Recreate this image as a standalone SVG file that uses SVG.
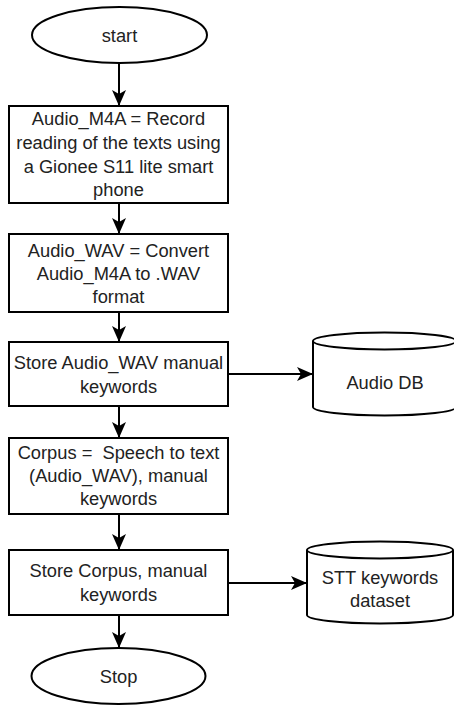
<svg xmlns="http://www.w3.org/2000/svg" width="454" height="706" viewBox="0 0 454 706">
<defs>
<style>
.s{fill:#fff;stroke:#000;stroke-width:2}
.t{font-family:"Liberation Sans",Arial,sans-serif;font-size:18.3px;fill:#222;text-anchor:middle;white-space:pre}
.c{fill:none;stroke:#000;stroke-width:2}
</style>
<marker id="ah" viewBox="0 0 16 14" refX="15" refY="7" markerWidth="16" markerHeight="14" markerUnits="userSpaceOnUse" orient="auto">
<path d="M0,0 L16,7 L0,14 L4,7 Z" fill="#000"/>
</marker>
</defs>
<rect width="454" height="706" fill="#fff"/>
<g id="connectors">
<path class="c" d="M119,63 V105" marker-end="url(#ah)"/>
<path class="c" d="M119,203 V233" marker-end="url(#ah)"/>
<path class="c" d="M119,312 V341" marker-end="url(#ah)"/>
<path class="c" d="M119,406 V437" marker-end="url(#ah)"/>
<path class="c" d="M119,514 V549" marker-end="url(#ah)"/>
<path class="c" d="M119,615 V647" marker-end="url(#ah)"/>
<path class="c" d="M228,374 H312" marker-end="url(#ah)"/>
<path class="c" d="M228,583 H306" marker-end="url(#ah)"/>
</g>
<g id="start">
<ellipse class="s" cx="119.5" cy="35" rx="87.5" ry="28"/>
<text class="t" x="119.5" y="41.5">start</text>
</g>
<g id="record">
<rect class="s" x="9" y="106" width="219" height="97"/>
<text class="t"><tspan x="118.5" y="124.5">Audio_M4A = Record</tspan><tspan x="118.5" y="148.5">reading of the texts using</tspan><tspan x="118.5" y="172.5">a Gionee S11 lite smart</tspan><tspan x="118.5" y="195.5">phone</tspan></text>
</g>
<g id="convert">
<rect class="s" x="9" y="234" width="219" height="78"/>
<text class="t"><tspan x="118.5" y="256.5">Audio_WAV = Convert</tspan><tspan x="118.5" y="279.5">Audio_M4A to .WAV</tspan><tspan x="118.5" y="302.5">format</tspan></text>
</g>
<g id="store-audio">
<rect class="s" x="9" y="342" width="219" height="64"/>
<text class="t"><tspan x="118.5" y="368.5">Store Audio_WAV manual</tspan><tspan x="118.5" y="392.5">keywords</tspan></text>
</g>
<g id="audio-db">
<path class="s" d="M313,341 A71.5,8.5 0 0 1 456,341 V407 A71.5,8.5 0 0 1 313,407 Z"/>
<path class="c" d="M313,341 A71.5,8.5 0 0 0 456,341"/>
<text class="t" x="385" y="388.5">Audio DB</text>
</g>
<g id="corpus">
<rect class="s" x="9" y="438" width="219" height="76"/>
<text class="t"><tspan x="118.5" y="458.5">Corpus =  Speech to text</tspan><tspan x="118.5" y="481.5">(Audio_WAV), manual</tspan><tspan x="118.5" y="504.5">keywords</tspan></text>
</g>
<g id="store-corpus">
<rect class="s" x="9" y="550" width="219" height="65"/>
<text class="t"><tspan x="118.5" y="576.5">Store Corpus, manual</tspan><tspan x="118.5" y="600.5">keywords</tspan></text>
</g>
<g id="stt-dataset">
<path class="s" d="M307,550 A73,8.5 0 0 1 453,550 V615 A73,8.5 0 0 1 307,615 Z"/>
<path class="c" d="M307,550 A73,8.5 0 0 0 453,550"/>
<text class="t"><tspan x="380" y="583.5">STT keywords</tspan><tspan x="380" y="606.5">dataset</tspan></text>
</g>
<g id="stop">
<ellipse class="s" cx="118.5" cy="676" rx="87" ry="28"/>
<text class="t" x="118.5" y="682.5">Stop</text>
</g>
</svg>
